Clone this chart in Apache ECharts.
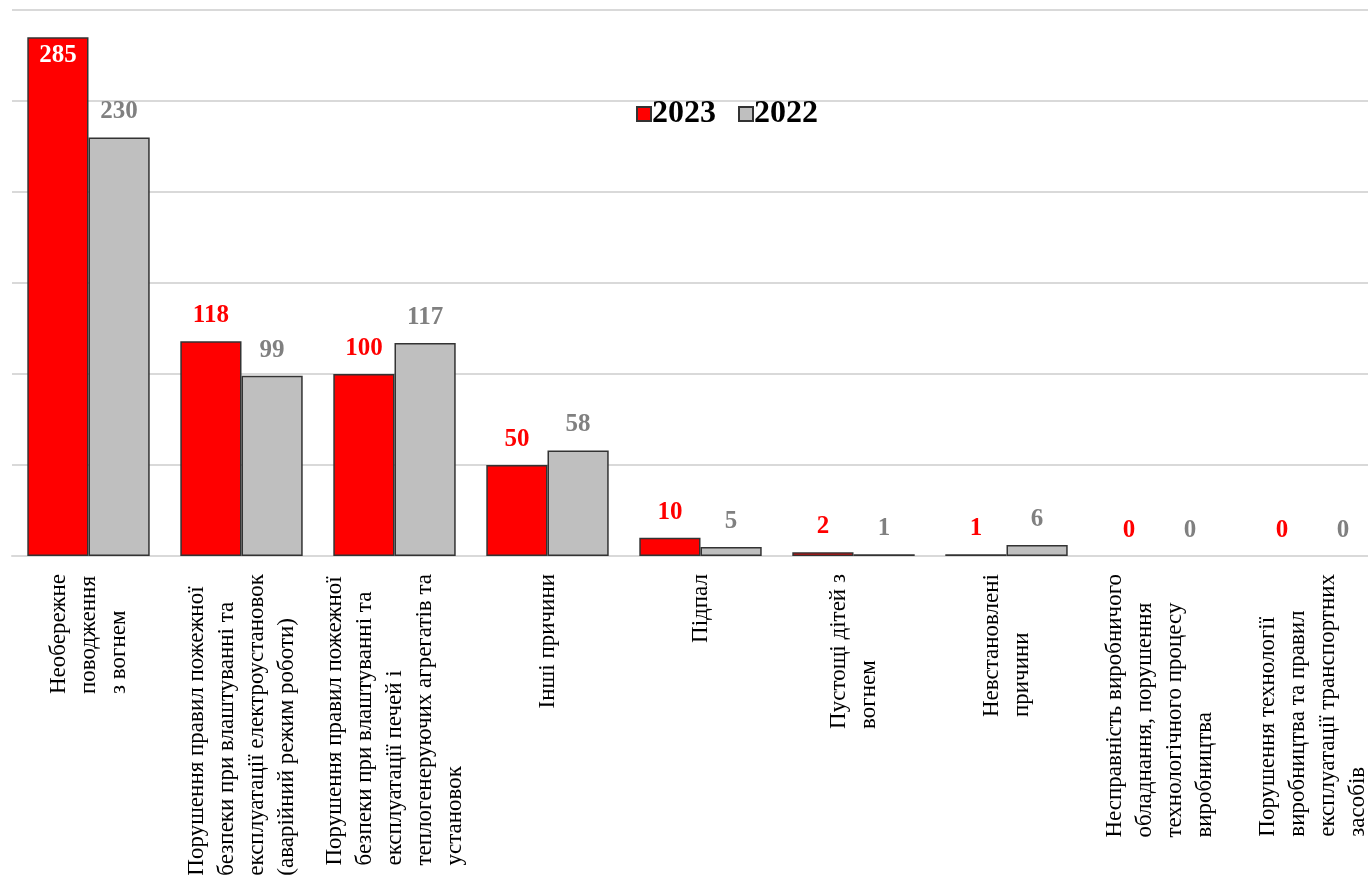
<!DOCTYPE html>
<html>
<head>
<meta charset="utf-8">
<script src="https://cdn.jsdelivr.net/npm/echarts@6/dist/echarts.min.js"></script>
<style>
html,body{margin:0;padding:0;background:#fff;overflow:hidden;width:1368px;height:888px;}
#chart{width:1389px;height:888px;}
</style>
</head>
<body>
<div id="chart"></div>
<script>
const categories = [
  "Необережне\nповодження\nз вогнем",
  "Порушення правил пожежної\nбезпеки при влаштуванні та\nексплуатації електроустановок\n(аварійний режим роботи)",
  "Порушення правил пожежної\nбезпеки при влаштуванні та\nексплуатації печей і\nтеплогенеруючих агрегатів та\nустановок",
  "Інші причини",
  "Підпал",
  "Пустощі дітей з\nвогнем",
  "Невстановлені\nпричини",
  "Несправність виробничого\nобладнання, порушення\nтехнологічного процесу\nвиробництва",
  "Порушення технології\nвиробництва та правил\nексплуатації транспортних\nзасобів"
];
const values2023 = [285, 118, 100, 50, 10, 2, 1, 0, 0];
const values2022 = [230, 99, 117, 58, 5, 1, 6, 0, 0];
const seriesNames = ["2023", "2022"];

const FONT = "'Liberation Serif', 'Times New Roman', serif";
const chart = echarts.init(document.getElementById('chart'));

const valueLabel = (color) => ({
  show: true,
  position: 'top',
  distance: 13,
  color: color,
  fontFamily: FONT,
  fontSize: 25,
  fontWeight: 'bold'
});

const toData = (arr, firstInside) => arr.map((v, i) => {
  const d = { value: v };
  if (v === 0) d.itemStyle = { borderWidth: 0 };
  if (firstInside && i === 0) d.label = { position: 'insideTop', distance: 6, color: '#ffffff' };
  return d;
});

chart.setOption({
  animation: false,
  backgroundColor: '#ffffff',
  legend: {
    data: seriesNames,
    top: 93,
    left: 631,
    icon: 'rect',
    itemWidth: 14,
    itemHeight: 14,
    itemGap: 22,
    textStyle: { fontFamily: FONT, fontSize: 32, fontWeight: 'bold', color: '#000000', padding: [0, 0, 0, -4] }
  },
  grid: { left: 12, top: 10, right: 0, bottom: 332, containLabel: false },
  xAxis: {
    type: 'category',
    data: categories,
    axisTick: { show: false },
    axisLine: { show: true, lineStyle: { color: '#d9d9d9', width: 2 } },
    axisLabel: {
      interval: 0,
      rotate: 90,
      margin: 18,
      formatter: (v) => v.split('\n').map(s => '{a|' + s + '}').join('\n'),
      rich: {
        a: { fontFamily: FONT, fontSize: 23, lineHeight: 30, color: '#000000', align: 'left' }
      }
    }
  },
  yAxis: {
    type: 'value',
    min: 0,
    max: 300,
    interval: 50,
    axisLabel: { show: false },
    axisLine: { show: false },
    axisTick: { show: false },
    splitLine: { lineStyle: { color: '#d9d9d9', width: 2 } }
  },
  series: [
    {
      name: seriesNames[0],
      type: 'bar',
      data: toData(values2023, true),
      barGap: '0%',
      barCategoryGap: '20%',
      itemStyle: { color: '#ff0000', borderColor: '#333333', borderWidth: 1.5 },
      label: valueLabel('#ff0000')
    },
    {
      name: seriesNames[1],
      type: 'bar',
      data: toData(values2022, false),
      barGap: '0%',
      barCategoryGap: '20%',
      itemStyle: { color: '#bfbfbf', borderColor: '#333333', borderWidth: 1.5 },
      label: valueLabel('#808080')
    }
  ]
});
</script>
</body>
</html>
